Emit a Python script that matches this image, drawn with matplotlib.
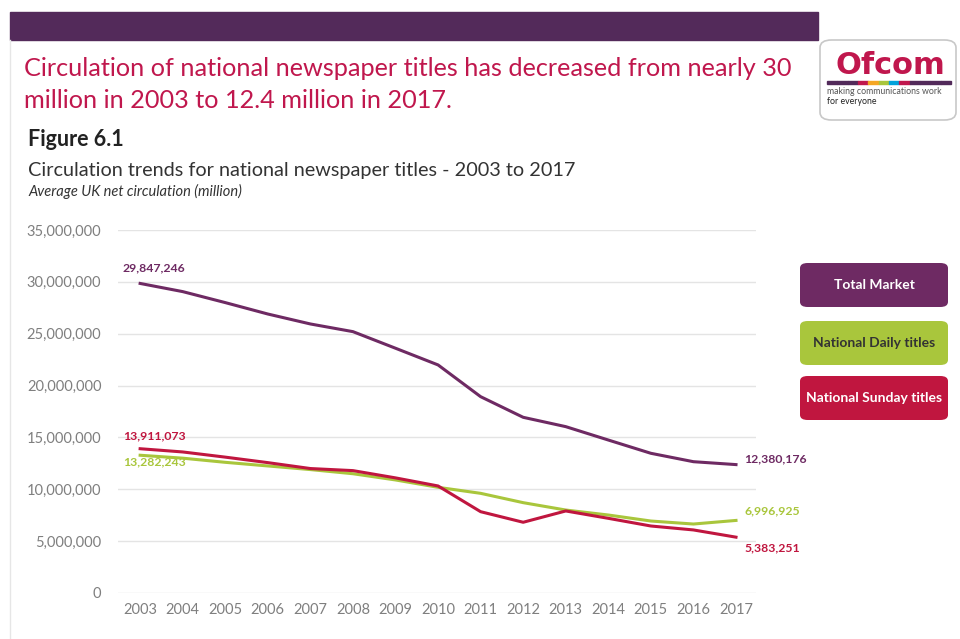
import matplotlib.pyplot as plt
from matplotlib.patches import FancyBboxPatch, Rectangle
from matplotlib.ticker import FuncFormatter
import numpy as np

plt.rcParams['font.family'] = ['Lato', 'DejaVu Sans']

years = list(range(2003, 2018))

# average UK net circulation, millions
total_market = [29.847246, 29.06, 28.0, 26.9, 25.94, 25.2, 23.6, 21.99,
                18.93, 16.94, 16.04, 14.75, 13.47, 12.66, 12.380176]
daily_titles = [13.282243, 13.0, 12.6, 12.25, 11.9, 11.5, 10.9, 10.19,
                9.61, 8.71, 8.0, 7.52, 6.94, 6.65, 6.996925]
sunday_titles = [13.911073, 13.6, 13.1, 12.57, 12.0, 11.8, 11.1, 10.32,
                 7.84, 6.82, 7.91, 7.2, 6.46, 6.08, 5.383251]

series_names = ['Total Market', 'National Daily titles', 'National Sunday titles']

purple = '#6e2a63'
lime = '#a9c63c'
crimson = '#c0163f'
grey = '#7f7f7f'

W, H = 960, 639
fig = plt.figure(figsize=(W / 100, H / 100), dpi=100)


def fx(px):
    return px / W


def fy(py):
    return 1 - py / H


# header band and page edge
fig.patches.append(Rectangle((fx(10), fy(40)), fx(808), 28 / H,
                             transform=fig.transFigure, color='#532a5a', zorder=0))
fig.lines.append(plt.Line2D([fx(10), fx(10)], [fy(40), 0],
                            transform=fig.transFigure, color='#e6e6e6', lw=1))

fig.text(fx(24), fy(69), 'Circulation of national newspaper titles has decreased from nearly 30',
         fontsize=18.2, color='#c0174d', va='center')
fig.text(fx(24), fy(101), 'million in 2003 to 12.4 million in 2017.',
         fontsize=18.2, color='#c0174d', va='center')

fig.text(fx(28), fy(139), 'Figure 6.1', fontsize=15.5, fontweight='bold', color='#222222', va='center')
fig.text(fx(28), fy(170), 'Circulation trends for national newspaper titles - 2003 to 2017',
         fontsize=14.3, color='#333333', va='center')
fig.text(fx(28), fy(191), 'Average UK net circulation (million)', fontsize=10.5,
         style='italic', color='#333333', va='center')

# logo card
logo = FancyBboxPatch((fx(820), fy(120)), fx(136), 80 / H,
                      boxstyle='round,pad=0,rounding_size=0.012',
                      transform=fig.transFigure, facecolor='white',
                      edgecolor='#c8c8c8', lw=1.2)
fig.patches.append(logo)
fig.text(fx(890), fy(66), 'Ofcom', fontsize=22, fontweight='bold', color='#c0174d',
         ha='center', va='center', family='DejaVu Sans')
stripe = ['#522a5a', '#522a5a', '#522a5a', '#c0174d', '#f5a623', '#a9c63c',
          '#00a2db', '#c0174d', '#522a5a', '#522a5a', '#522a5a', '#522a5a']
sw = 124 / len(stripe)
for i, c in enumerate(stripe):
    fig.patches.append(Rectangle((fx(827 + i * sw), fy(84)), fx(sw), 3 / H,
                                 transform=fig.transFigure, color=c))
fig.text(fx(827), fy(92), 'making communications work', fontsize=6.3, color='#555555', va='center')
fig.text(fx(827), fy(101), 'for everyone', fontsize=6.3, color='#222222', va='center')

# chart
ax = fig.add_axes([fx(118), fy(593), fx(756 - 118), (593 - 230) / H])
ax.plot(years, total_market, color=purple, lw=2.2)
ax.plot(years, daily_titles, color=lime, lw=2.2)
ax.plot(years, sunday_titles, color=crimson, lw=2.2)

ax.set_xlim(2002.48, 2017.47)
ax.set_ylim(0, 35)
ax.set_yticks(np.arange(0, 36, 5))
ax.yaxis.set_major_formatter(FuncFormatter(lambda v, p: f'{int(v * 1e6):,}'))
ax.set_xticks(years)
ax.grid(axis='y', color='#e4e4e4', lw=1)
ax.set_axisbelow(True)
for s in ax.spines.values():
    s.set_visible(False)
ax.tick_params(length=0, labelsize=10.5, colors=grey, pad=7)
ax.tick_params(axis='y', pad=12)


def fmt(v):
    return f'{round(v * 1e6):,}'


kw = dict(fontsize=8.8, fontweight='bold')
ax.annotate(fmt(total_market[0]), (years[0], total_market[0]), xytext=(-13, 7),
            textcoords='offset points', color=purple, va='bottom', **kw)
ax.annotate(fmt(sunday_titles[0]), (years[0], sunday_titles[0]), xytext=(-12, 5),
            textcoords='offset points', color=crimson, va='bottom', **kw)
ax.annotate(fmt(daily_titles[0]), (years[0], daily_titles[0]), xytext=(-12, -1),
            textcoords='offset points', color=lime, va='top', **kw)
ax.annotate(fmt(total_market[-1]), (years[-1], total_market[-1]), xytext=(6, 4),
            textcoords='offset points', color=purple, va='center', **kw)
ax.annotate(fmt(daily_titles[-1]), (years[-1], daily_titles[-1]), xytext=(6, 7),
            textcoords='offset points', color=lime, va='center', **kw)
ax.annotate(fmt(sunday_titles[-1]), (years[-1], sunday_titles[-1]), xytext=(6, -8),
            textcoords='offset points', color=crimson, va='center', **kw)

# legend boxes
legend_rows = [(263, purple, 'white'), (321, lime, '#333333'), (376, crimson, 'white')]
for name, (top, c, tc) in zip(series_names, legend_rows):
    box = FancyBboxPatch((fx(800), fy(top + 44)), fx(148), 44 / H,
                         boxstyle='round,pad=0,rounding_size=0.008',
                         transform=fig.transFigure, facecolor=c, edgecolor='none')
    fig.patches.append(box)
    fig.text(fx(874), fy(top + 22), name, fontsize=10, fontweight='bold', color=tc,
             ha='center', va='center')

fig.savefig('out.png', dpi=100, facecolor='white')
